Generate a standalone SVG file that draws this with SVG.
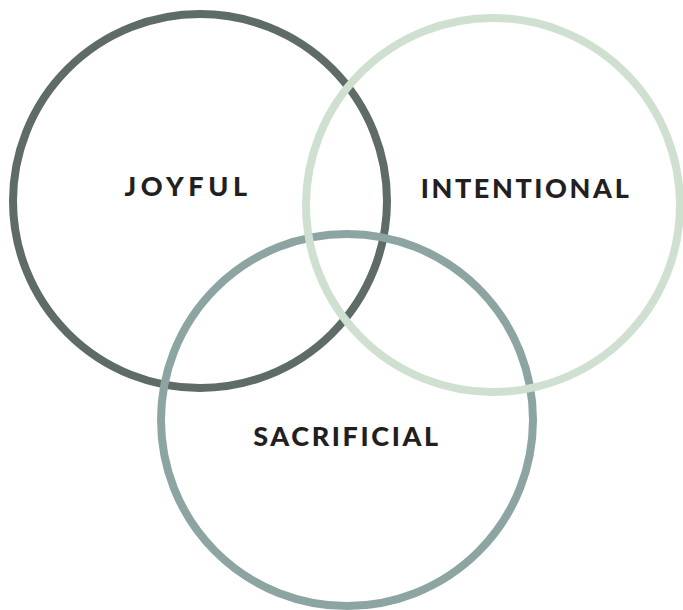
<svg xmlns="http://www.w3.org/2000/svg" width="683" height="610" viewBox="0 0 683 610">
<style>
.ring{fill:none;stroke-width:8}
.lbl{font-family:Lato,"Liberation Sans",sans-serif;font-weight:900;font-size:27px;letter-spacing:2.6px;fill:#231f20;text-anchor:middle}
</style>
<rect width="683" height="610" fill="#ffffff"/>
<g id="joyful">
<circle class="ring" cx="200" cy="201" r="187" stroke="#5f6b66"/>
<text class="lbl" x="188" y="196" style="letter-spacing:4.6px">JOYFUL</text>
</g>
<g id="sacrificial">
<circle class="ring" cx="347" cy="420" r="186" stroke="#8ca5a3"/>
<text class="lbl" x="347" y="446">SACRIFICIAL</text>
</g>
<g id="intentional">
<circle class="ring" cx="493" cy="205" r="187" stroke="#cfe0d0"/>
<text class="lbl" x="526" y="198">INTENTIONAL</text>
</g>
<g id="connectors"></g>
</svg>
